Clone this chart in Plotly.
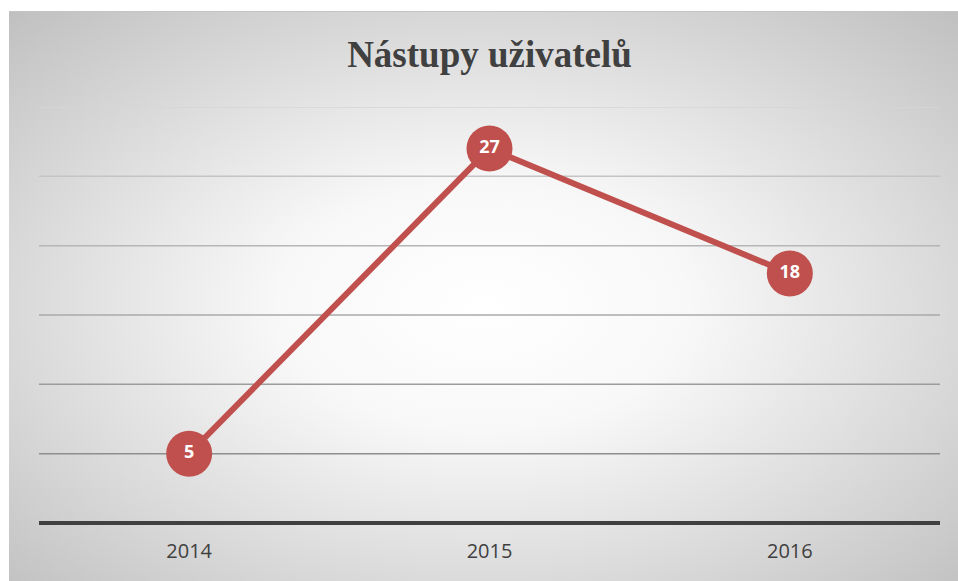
import base64
import plotly.graph_objects as go

# Data
years = ["2014", "2015", "2016"]
values = [5, 27, 18]
grid_values = [5, 10, 15, 20, 25, 30]
grid_colors = ["#8e8e8e", "#9c9c9c", "#aaaaaa", "#b6b6b6", "#c4c4c4", "#d6d6d6"]

title_text = "Nástupy uživatelů"
red = "#c0504d"

# Radial gradient background as SVG
svg = """<svg xmlns='http://www.w3.org/2000/svg' width='949' height='570' viewBox='0 0 949 570' preserveAspectRatio='none'>
<defs><radialGradient id='g' cx='0.5' cy='0.52' r='0.72' gradientUnits='objectBoundingBox'>
<stop offset='0' stop-color='#ffffff'/>
<stop offset='0.3' stop-color='#f8f8f8'/>
<stop offset='1' stop-color='#c0c0c0'/>
</radialGradient></defs>
<rect x='0' y='0' width='949' height='570' fill='url(#g)'/>
<line x1='0' y1='0.5' x2='949' y2='0.5' stroke='#c4c4c4' stroke-width='1'/>
</svg>"""
svg_uri = "data:image/svg+xml;base64," + base64.b64encode(svg.encode()).decode()

W, H = 958, 581
ml, mr, mt, mb = 39, 18, 107, 58
pw = W - ml - mr
ph = H - mt - mb

def px_to_paper_x(px):
    return (px - ml) / pw

def px_to_paper_y(py):
    return (H - mb - py) / ph

fig = go.Figure()

fig.add_trace(go.Scatter(
    x=years, y=values,
    mode="lines+markers+text",
    line=dict(color=red, width=6),
    marker=dict(size=46, color=red, line=dict(width=0)),
    text=[str(v) for v in values],
    textposition="middle center",
    textfont=dict(family="Open Sans", size=18, color="white", weight="bold"),
    cliponaxis=False,
    hoverinfo="skip",
    showlegend=False,
))

shapes = []
for gv, gc in zip(grid_values, grid_colors):
    shapes.append(dict(type="line", xref="paper", yref="y", x0=0, x1=1, y0=gv, y1=gv,
                       line=dict(color=gc, width=1.5), layer="below"))

fig.update_layout(
    width=W, height=H,
    margin=dict(l=ml, r=mr, t=mt, b=mb),
    paper_bgcolor="white",
    plot_bgcolor="rgba(0,0,0,0)",
    images=[dict(source=svg_uri, xref="paper", yref="paper",
                 x=px_to_paper_x(9), y=px_to_paper_y(11),
                 sizex=px_to_paper_x(958) - px_to_paper_x(9),
                 sizey=px_to_paper_y(11) - px_to_paper_y(581),
                 xanchor="left", yanchor="top", sizing="stretch", layer="below")],
    shapes=shapes,
    title=dict(text=title_text, x=0.5, xref="paper", xanchor="center", y=1 - 54 / H, yanchor="middle",
               font=dict(family="Liberation Serif", size=37, color="#404040", weight="bold")),
    xaxis=dict(range=[-0.5, 2.5], showgrid=False, showline=False, zeroline=False,
               ticks="", ticklabelstandoff=14,
               tickfont=dict(family="Open Sans", size=20, color="#404040"),
               fixedrange=True),
    yaxis=dict(range=[0, 30], showgrid=False, showticklabels=False, zeroline=True,
               zerolinecolor="#404040", zerolinewidth=4, showline=False, fixedrange=True),
)

fig.write_html(
    "out.html",
    config={"displayModeBar": False},
    post_script="document.body.style.margin='0';document.documentElement.style.overflow='hidden';document.body.style.overflow='hidden';",
)
